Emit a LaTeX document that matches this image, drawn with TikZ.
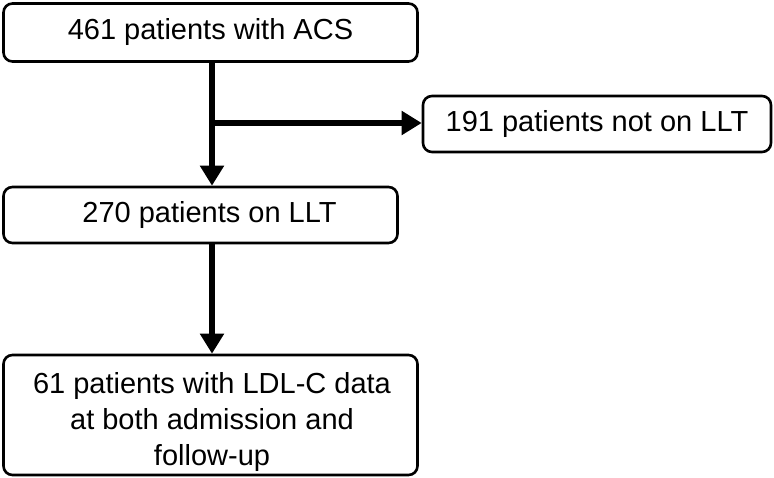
\documentclass[tikz,border=0pt]{standalone}
\usepackage{fontspec}
\setmainfont{Liberation Sans}
\usetikzlibrary{arrows.meta}
\begin{document}
\begin{tikzpicture}[x=1pt,y=-1pt,
  txt/.style={inner sep=0pt, align=center, font=\fontsize{29}{36}\selectfont},
  box/.style={txt, draw=black, line width=2.6pt, rounded corners=9pt, fill=white},
  arr/.style={draw=black, line width=6pt, -{Triangle[length=20pt 0, width=23pt 0]}}]
\useasboundingbox (0,0) rectangle (774,478);
\node[box, minimum width=414pt, minimum height=58pt] (b1) at (210.5,32.5) {461 patients with ACS};
\node[box, minimum width=348pt, minimum height=56pt] (b2) at (597,124) {191 patients not on LLT};
\node[box, minimum width=394pt, minimum height=56pt] (b3) at (200.5,215) {\hspace*{18pt}270 patients on LLT};
\node[box, minimum width=414pt, minimum height=120pt] (b4) at (210.5,415) {};
\node[txt] (t4) at (212,422) {61 patients with LDL-C data\\at both admission and\\follow-up};
\coordinate (xl) at (212,0);
\coordinate (br) at (212,123);
\draw[arr] (b1.south -| xl) -- (b3.north -| xl);
\draw[arr] (br) -- (br -| b2.west);
\draw[arr] (b3.south -| xl) -- (b4.north -| xl);
\end{tikzpicture}
\end{document}
